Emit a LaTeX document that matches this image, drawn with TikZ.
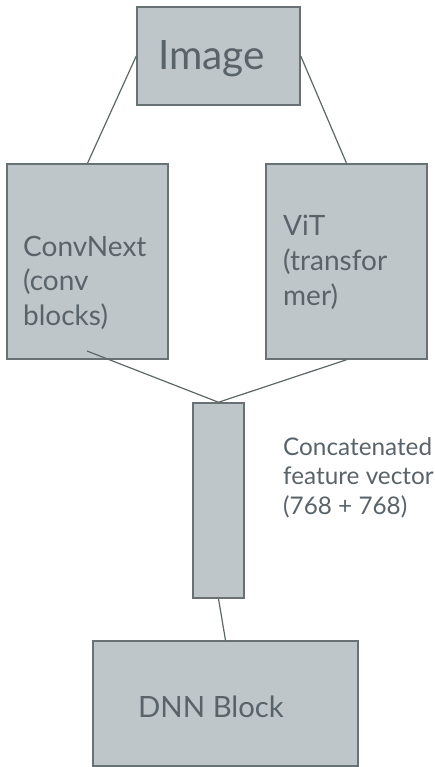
\documentclass[tikz,border=0pt]{standalone}
\usepackage{fontspec}
\setmainfont{Lato}
\definecolor{boxfill}{RGB}{191,198,201}
\definecolor{boxline}{RGB}{104,114,116}
\definecolor{txt}{RGB}{89,99,106}
\begin{document}
\begin{tikzpicture}[x=1pt,y=-1pt,
  blk/.style={draw=boxline,fill=boxfill,line width=1.5pt,inner sep=0pt,rectangle},
  lbl/.style={anchor=base west,inner sep=0pt,text=txt},
  conn/.style={draw=boxline!90!black,line width=1.2pt}]
\useasboundingbox (0,0) rectangle (434,767);
% boxes
\node[blk,minimum width=163pt,minimum height=98pt] (img) at (218.5,56) {};
\node[blk,minimum width=161pt,minimum height=195pt] (conv) at (87.5,261.5) {};
\node[blk,minimum width=161pt,minimum height=195pt] (vit) at (346.5,261.5) {};
\node[blk,minimum width=51pt,minimum height=195pt] (cat) at (218.5,500.5) {};
\node[blk,minimum width=265pt,minimum height=125pt] (dnn) at (225.5,703.5) {};
% connectors
\coordinate (convout) at (87,351);
\draw[conn] (img.west) -- (conv.north);
\draw[conn] (img.east) -- (vit.north);
\draw[conn] (convout) -- (cat.north);
\draw[conn] (vit.south) -- (cat.north);
\draw[conn] (cat.south) -- (dnn.north);
% labels
\node[lbl,font=\fontsize{40.5}{48}\selectfont] (timg) at (158,70) {Image};
\node[lbl,font=\fontsize{28}{34}\selectfont] (tconvA) at (23,256) {ConvNext};
\node[lbl,font=\fontsize{28}{34}\selectfont] (tconvB) at (23,290.5) {(conv};
\node[lbl,font=\fontsize{28}{34}\selectfont] (tconvC) at (23,325) {blocks)};
\node[lbl,font=\fontsize{28}{34}\selectfont] (tvitA) at (283,235) {ViT};
\node[lbl,font=\fontsize{28}{34}\selectfont] (tvitB) at (283,270) {(transfor};
\node[lbl,font=\fontsize{28}{34}\selectfont] (tvitC) at (283,305) {mer)};
\node[lbl,font=\fontsize{24.3}{30}\selectfont] (tcatA) at (283,455) {Concatenated};
\node[lbl,font=\fontsize{24.3}{30}\selectfont] (tcatB) at (283,484.5) {feature vector};
\node[lbl,font=\fontsize{24.3}{30}\selectfont] (tcatC) at (283,514) {(768 + 768)};
\node[lbl,font=\fontsize{29.3}{36}\selectfont] (tdnn) at (138,717) {DNN Block};
\end{tikzpicture}
\end{document}
